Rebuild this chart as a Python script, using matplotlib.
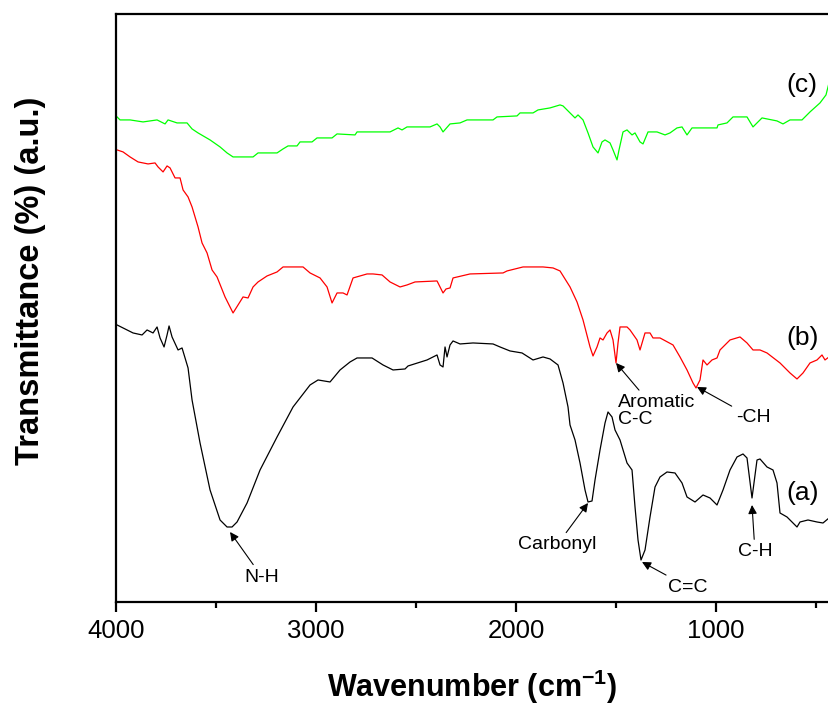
#!/usr/bin/env python3

import matplotlib
matplotlib.use('Agg')
import matplotlib.pyplot as plt
from matplotlib.ticker import MultipleLocator, NullLocator

plt.rcParams['font.family'] = ['Liberation Sans', 'DejaVu Sans']
plt.rcParams['mathtext.fontset'] = 'custom'
plt.rcParams['mathtext.rm'] = 'Liberation Sans'
plt.rcParams['mathtext.bf'] = 'Liberation Sans:bold'

# FTIR spectra, wavenumber (cm-1) vs transmittance (a.u., offset traces)
wn_a = [3995, 3915, 3870, 3845, 3815, 3795, 3780, 3760, 3745, 3735, 3720, 3690,
        3670, 3640, 3620, 3580, 3530, 3480, 3445, 3420, 3395, 3345, 3280, 3195,
        3115, 3030, 2990, 2930, 2880, 2830, 2795, 2720, 2665, 2615, 2555, 2540,
        2445, 2395, 2380, 2365, 2355, 2345, 2330, 2315, 2280, 2215, 2115, 2080,
        2030, 1970, 1915, 1865, 1830, 1790, 1765, 1740, 1730, 1705, 1680, 1655,
        1640, 1620, 1605, 1580, 1555, 1540, 1520, 1505, 1480, 1445, 1420, 1405,
        1390, 1375, 1355, 1330, 1305, 1280, 1245, 1205, 1170, 1145, 1105, 1065,
        1030, 995, 965, 930, 895, 865, 845, 820, 795, 780, 745, 715, 695, 680,
        645, 630, 595, 580, 540, 495, 465, 435]
t_a = [277, 269, 267, 272, 269, 275, 264, 255, 267, 276, 265, 252,
       254, 234, 202, 159, 112, 82, 75, 75, 80, 99, 132, 165,
       195, 217, 222, 220, 232, 240, 244, 244, 237, 232, 233, 236,
       242, 247, 237, 235, 255, 245, 257, 261, 258, 259, 258, 255,
       251, 249, 242, 245, 243, 237, 219, 195, 177, 162, 139, 112,
       100, 101, 122, 152, 179, 190, 185, 172, 162, 139, 132, 95,
       62, 42, 52, 85, 115, 125, 130, 129, 119, 105, 100, 107,
       104, 97, 112, 132, 145, 148, 144, 104, 142, 143, 135, 132, 119, 89,
       85, 82, 75, 80, 82, 80, 79, 84]

wn_b = [3995, 3965, 3930, 3890, 3840, 3805, 3790, 3765, 3745, 3730, 3705, 3680,
        3665, 3640, 3620, 3590, 3570, 3545, 3520, 3495, 3455, 3415, 3390, 3365,
        3340, 3315, 3290, 3245, 3195, 3165, 3065, 3030, 2980, 2945, 2920, 2895,
        2865, 2845, 2815, 2745, 2715, 2670, 2630, 2580, 2545, 2505, 2395, 2380,
        2365, 2350, 2330, 2315, 2230, 2065, 2045, 1965, 1865, 1815, 1780, 1730,
        1695, 1665, 1630, 1615, 1595, 1580, 1565, 1545, 1530, 1515, 1500, 1490,
        1480, 1445, 1430, 1395, 1380, 1355, 1330, 1315, 1280, 1215, 1180, 1145,
        1115, 1100, 1080, 1065, 1045, 1020, 995, 980, 930, 880, 845, 815,
        780, 745, 680, 630, 595, 565, 530, 495, 470, 455, 435]
t_b = [452, 450, 445, 440, 438, 439, 435, 430, 436, 434, 424, 424,
       412, 405, 395, 375, 359, 349, 332, 325, 305, 289, 297, 305,
       304, 315, 320, 326, 330, 335, 335, 329, 324, 315, 299, 309,
       309, 307, 324, 328, 328, 327, 320, 315, 317, 320, 321, 315,
       309, 313, 314, 324, 328, 329, 331, 335, 335, 334, 331, 315,
       300, 282, 255, 246, 255, 264, 262, 269, 272, 262, 239, 259,
       275, 275, 272, 262, 252, 269, 269, 264, 264, 257, 245, 232,
       219, 214, 222, 242, 237, 242, 244, 252, 262, 265, 259, 252,
       252, 249, 239, 229, 223, 229, 239, 242, 247, 242, 245]

wn_c = [3995, 3980, 3930, 3865, 3795, 3755, 3740, 3695, 3645, 3620, 3590, 3530,
        3480, 3445, 3415, 3315, 3290, 3195, 3165, 3140, 3095, 3080, 3020, 2995,
        2920, 2895, 2805, 2795, 2630, 2590, 2570, 2545, 2430, 2395, 2380, 2365,
        2330, 2280, 2245, 2115, 2095, 1995, 1980, 1915, 1890, 1830, 1780, 1765,
        1730, 1705, 1690, 1665, 1640, 1615, 1590, 1570, 1555, 1530, 1515, 1495,
        1485, 1465, 1445, 1420, 1405, 1380, 1365, 1340, 1295, 1255, 1230, 1195,
        1170, 1145, 1120, 995, 990, 945, 915, 845, 815, 770, 695, 665,
        630, 570, 530, 480, 450, 435]
t_c = [485, 482, 482, 480, 482, 478, 482, 479, 479, 473, 469, 462,
       455, 449, 445, 445, 449, 449, 453, 456, 456, 460, 460, 464,
       464, 468, 467, 470, 470, 474, 472, 475, 475, 478, 475, 470,
       478, 479, 482, 482, 485, 486, 489, 489, 492, 494, 497, 496,
       489, 484, 487, 482, 469, 455, 449, 460, 462, 459, 452, 442,
       452, 470, 472, 467, 469, 460, 458, 470, 470, 467, 469, 474,
       475, 467, 474, 474, 477, 479, 485, 485, 475, 484, 481, 478,
       482, 482, 490, 499, 507, 519]

fig = plt.figure(figsize=(8.29, 7.06), dpi=100)
ax = fig.add_axes([0.140, 0.1473, 0.860, 0.833])

ax.plot(wn_a, t_a, color='black', lw=0.9)
ax.plot(wn_b, t_b, color='#ff0000', lw=0.9)
ax.plot(wn_c, t_c, color='#00ff00', lw=0.9)

ax.set_xlim(4000, 435)
ax.set_ylim(0, 588)

ax.spines['right'].set_visible(False)
for s in ['left', 'top', 'bottom']:
    ax.spines[s].set_linewidth(1.6)

ax.xaxis.set_major_locator(MultipleLocator(1000))
ax.xaxis.set_minor_locator(MultipleLocator(500))
ax.yaxis.set_major_locator(NullLocator())
ax.tick_params(axis='x', which='major', direction='out', length=7, width=1.6,
               labelsize=18.5, pad=5)
ax.tick_params(axis='x', which='minor', direction='out', length=4, width=1.6)
ax.tick_params(axis='x', top=False)

ax.set_xlabel(r'Wavenumber (cm$\mathbf{^{-1}}$)', fontsize=22, fontweight='bold',
              labelpad=18)
ax.set_ylabel('Transmittance (%) (a.u.)', fontsize=23.5, fontweight='bold')
ax.yaxis.set_label_coords(-0.098, 0.546)

arrow = dict(arrowstyle='-|>', color='black', lw=0.8, mutation_scale=13,
             shrinkA=1, shrinkB=0)
ax.annotate('N-H', xy=(3430, 70), xytext=(3270, 25), fontsize=14,
            ha='center', va='center', arrowprops=arrow)
ax.annotate('Carbonyl', xy=(1640, 99), xytext=(1795, 57), fontsize=14,
            ha='center', va='center', arrowprops=arrow)
ax.annotate('C=C', xy=(1370, 40), xytext=(1140, 15), fontsize=14,
            ha='center', va='center', arrowprops=arrow)
ax.annotate('Aromatic\nC-C', xy=(1500, 239), xytext=(1490, 191), fontsize=14,
            ha='left', va='center', multialignment='left', linespacing=1.0,
            arrowprops=arrow)
ax.annotate('-CH', xy=(1095, 215), xytext=(815, 184), fontsize=14,
            ha='center', va='center', arrowprops=arrow)
ax.annotate('C-H', xy=(820, 97), xytext=(805, 50), fontsize=14,
            ha='center', va='center', arrowprops=arrow)

ax.text(565, 109, '(a)', fontsize=19, ha='center', va='center')
ax.text(565, 264, '(b)', fontsize=19, ha='center', va='center')
ax.text(570, 517, '(c)', fontsize=19, ha='center', va='center')

fig.savefig('out.png', dpi=100)
